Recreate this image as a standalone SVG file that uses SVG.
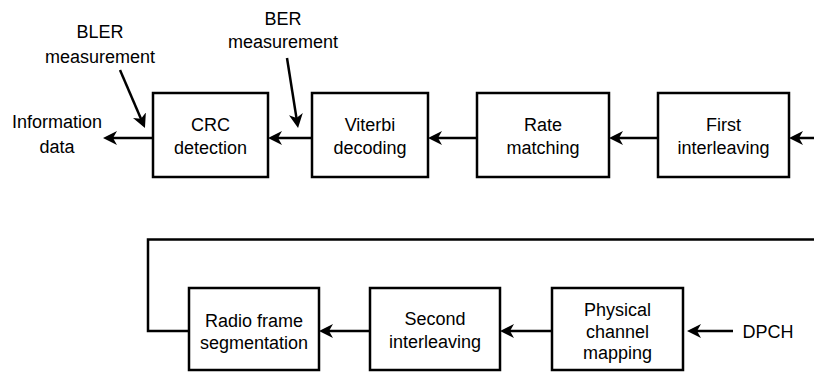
<svg xmlns="http://www.w3.org/2000/svg" width="814" height="373" viewBox="0 0 814 373">
<style>
.box{fill:#fff;stroke:#000;stroke-width:2.5}
.ln{fill:none;stroke:#000;stroke-width:2.5}
.arr{fill:none;stroke:#000;stroke-width:2.5;marker-end:url(#ah)}
text{font-family:"Liberation Sans",Arial,sans-serif;font-size:18px;fill:#000;text-anchor:middle}
</style>
<defs>
<marker id="ah" markerUnits="userSpaceOnUse" viewBox="0 -7 14 14" markerWidth="14" markerHeight="14" refX="6" refY="0" orient="auto">
<path d="M0,-7 L14,0 L0,7 L4,0 Z" fill="#000"/>
</marker>
</defs>
<g id="connectors">
<line class="arr" x1="312" y1="138" x2="276" y2="138"/>
<line class="arr" x1="153" y1="138" x2="111" y2="138"/>
<line class="arr" x1="477" y1="138" x2="436" y2="138"/>
<line class="arr" x1="658" y1="138" x2="617" y2="138"/>
<line class="arr" x1="814" y1="138" x2="797" y2="138"/>
<line class="arr" x1="120" y1="70" x2="141.8" y2="120.7"/>
<line class="arr" x1="287" y1="58" x2="296.8" y2="120.1"/>
<polyline class="ln" points="814,239.5 148,239.5 148,331 189,331"/>
<line class="arr" x1="370" y1="331" x2="327" y2="331"/>
<line class="arr" x1="552" y1="331" x2="508" y2="331"/>
<line class="arr" x1="733" y1="331" x2="695" y2="331"/>
</g>
<g id="info"><text x="57" y="128">Information</text><text x="57" y="153">data</text></g>
<g id="bler"><text x="100" y="38">BLER</text><text x="100" y="63">measurement</text></g>
<g id="ber"><text x="283" y="25">BER</text><text x="283" y="48">measurement</text></g>
<g id="crc"><rect class="box" x="153" y="93" width="115" height="84"/><text x="210.5" y="131">CRC</text><text x="210.5" y="154">detection</text></g>
<g id="viterbi"><rect class="box" x="312" y="93" width="116" height="84"/><text x="370" y="131">Viterbi</text><text x="370" y="154">decoding</text></g>
<g id="rate"><rect class="box" x="477" y="93" width="132" height="84"/><text x="543" y="131">Rate</text><text x="543" y="154">matching</text></g>
<g id="first"><rect class="box" x="658" y="93" width="131" height="84"/><text x="723.5" y="131">First</text><text x="723.5" y="154">interleaving</text></g>
<g id="radio"><rect class="box" x="189" y="288" width="130" height="82"/><text x="254" y="327">Radio frame</text><text x="254" y="349">segmentation</text></g>
<g id="second"><rect class="box" x="370" y="288" width="130" height="82"/><text x="435" y="325">Second</text><text x="435" y="348">interleaving</text></g>
<g id="physical"><rect class="box" x="552" y="288" width="131" height="82"/><text x="617.5" y="316">Physical</text><text x="617.5" y="338">channel</text><text x="617.5" y="359">mapping</text></g>
<g id="dpch"><text x="768" y="338">DPCH</text></g>
</svg>
